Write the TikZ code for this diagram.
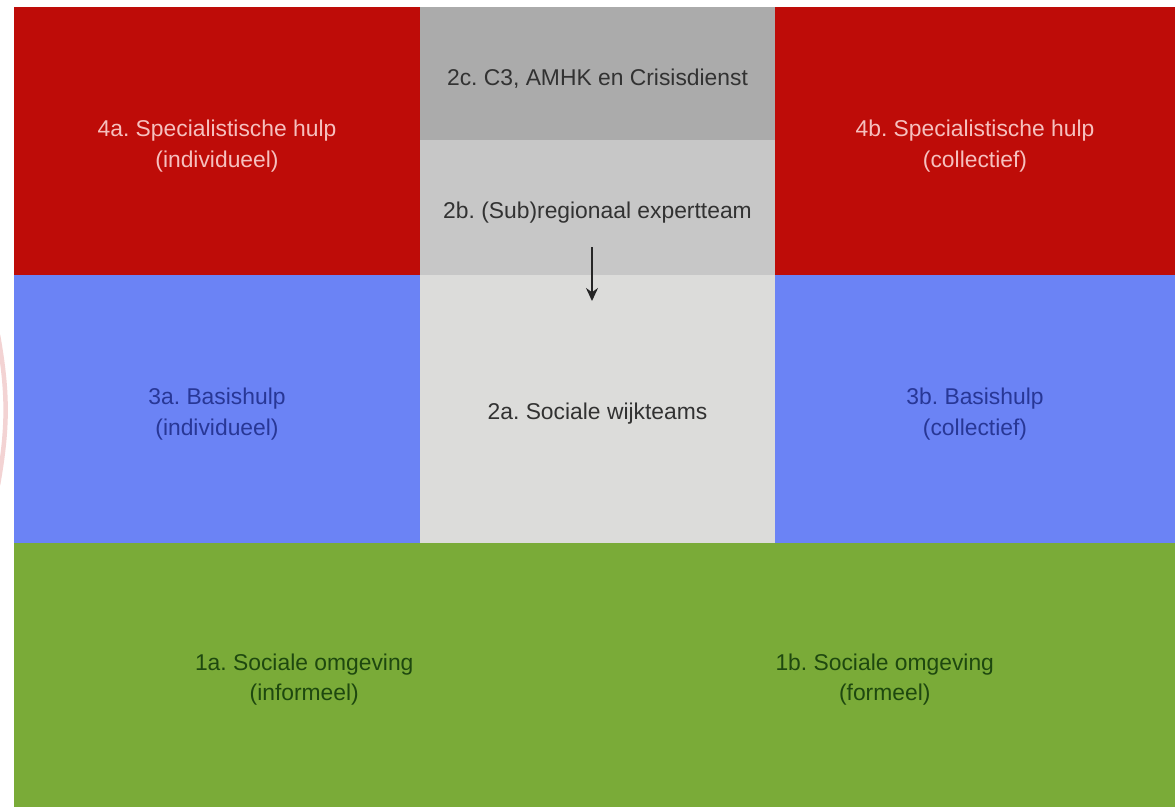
\documentclass[tikz,border=0pt]{standalone}
\usepackage{fontspec}
\setmainfont{Liberation Sans}
\usepackage{tikz}
\usetikzlibrary{shapes,arrows,arrows.meta,positioning}
\frenchspacing

\definecolor{Rood}{RGB}{190,12,8}
\definecolor{Blauw}{RGB}{107,131,245}
\definecolor{Groen}{RGB}{122,171,56}
\definecolor{GrijsC}{RGB}{171,171,171}
\definecolor{GrijsB}{RGB}{199,199,199}
\definecolor{GrijsA}{RGB}{220,220,218}
\definecolor{RoodTekst}{RGB}{246,192,190}
\definecolor{BlauwTekst}{RGB}{40,55,150}
\definecolor{GrijsTekst}{RGB}{50,50,50}
\definecolor{GroenTekst}{RGB}{30,72,15}

\begin{document}
\begin{tikzpicture}[x=0.2mm, y=-0.2mm]
		\tikzstyle{Cel}		= [rectangle, inner sep=0pt, line width=0.3pt]
		\tikzstyle{Tekst}	= [align=center, yshift=-1mm, font=\fontsize{13}{17.5}\selectfont]
		\tikzstyle{Breed}	= [minimum width=81.2mm, minimum height=53.6mm]
		\tikzstyle{Rechts}	= [minimum width=80mm, minimum height=53.6mm]
		\tikzstyle{Midden}	= [minimum width=71mm]
		\tikzstyle{Half}	= [minimum width=116.1mm, minimum height=52.6mm]
		\tikzstyle{Spec}	= [fill=Rood, draw=Rood]
		\tikzstyle{Basis}	= [fill=Blauw, draw=Blauw]
		\tikzstyle{Omg}		= [fill=Groen, draw=Groen]
		\tikzstyle{Pijl}	= [-{Stealth[length=2.6mm, width=2.4mm]}, line width=1pt, black!85]
		
		\useasboundingbox (0,0) rectangle (1175,806);
		
		\node (c4a) at (217,141) [Cel][Breed][Spec] {};
		\node (c2c) at (597.5,73.5) [Cel][Midden] [minimum height=26.6mm, fill=GrijsC, draw=GrijsC] {};
		\node (c2b) at (597.5,207.5) [Cel][Midden] [minimum height=27mm, fill=GrijsB, draw=GrijsB] {};
		\node (c4b) at (975,141) [Cel][Rechts][Spec] {};
		\node (c3a) at (217,409) [Cel][Breed][Basis] {};
		\node (c2a) at (597.5,409) [Cel][Midden] [minimum height=53.6mm, fill=GrijsA, draw=GrijsA] {};
		\node (c3b) at (975,409) [Cel][Rechts][Basis] {};
		\node (c1a) at (304.25,674.5) [Cel][Half][Omg] {};
		\node (c1b) at (884.75,674.5) [Cel][Half][Omg] {};
		
		\node (t4a) at (c4a.center) [Tekst, text=RoodTekst] {4a. Specialistische hulp\\(individueel)};
		\node (t2c) at (c2c.center) [Tekst, text=GrijsTekst] {2c. C3, AMHK en Crisisdienst};
		\node (t2b) at (c2b.center) [Tekst, text=GrijsTekst] {2b. (Sub)regionaal expertteam};
		\node (t4b) at (c4b.center) [Tekst, text=RoodTekst] {4b. Specialistische hulp\\(collectief)};
		\node (t3a) at (c3a.center) [Tekst, text=BlauwTekst] {3a. Basishulp\\(individueel)};
		\node (t2a) at (c2a.center) [Tekst, text=GrijsTekst] {2a. Sociale wijkteams};
		\node (t3b) at (c3b.center) [Tekst, text=BlauwTekst] {3b. Basishulp\\(collectief)};
		\node (t1a) at (c1a.center) [Tekst, text=GroenTekst] {1a. Sociale omgeving\\(informeel)};
		\node (t1b) at (c1b.center) [Tekst, text=GroenTekst] {1b. Sociale omgeving\\(formeel)};
		
		\coordinate (pijlvan) at (592,247);
		\coordinate (pijlnaar) at (592,301);
		\draw (pijlvan) to (pijlnaar) [Pijl];
		
		% vage rand links
		\draw [Rood!18, line width=0.9mm] (-2,335) to [bend left=10] (-2,485);
	\end{tikzpicture}
\end{document}
